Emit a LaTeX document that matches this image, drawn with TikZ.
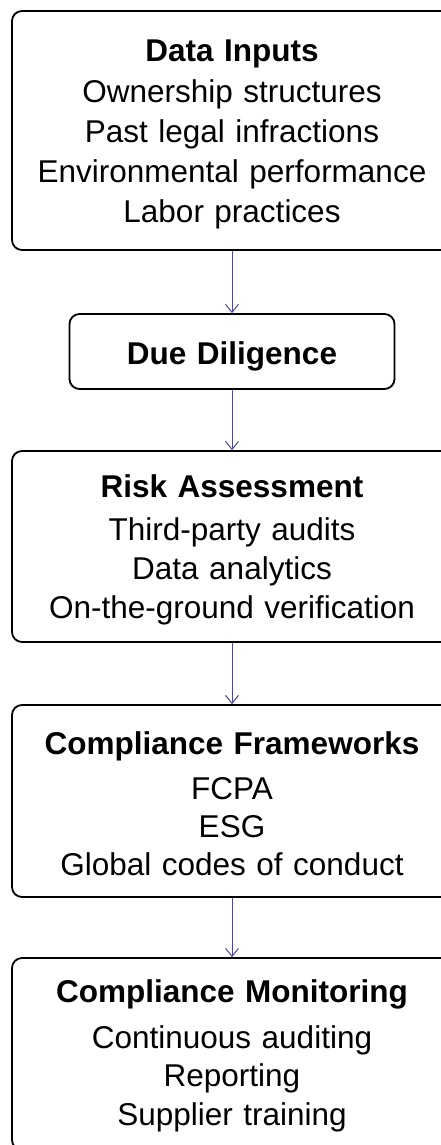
\documentclass[tikz,border=0pt]{standalone}
\usepackage{fontspec}
\setmainfont{Liberation Sans}
\usetikzlibrary{arrows.meta}
\definecolor{arrowc}{HTML}{4B4B8E}
\begin{document}
\begin{tikzpicture}[x=1pt,y=1pt,
  box/.style={draw=black, line width=1.8pt, rounded corners=10pt, inner sep=0pt},
  txt/.style={align=center, inner sep=0pt, anchor=base, text=black, text width=430pt},
  conn/.style={draw=arrowc, line width=1pt, -{Straight Barb[length=8pt,width=13pt,line width=1pt]}}]
\useasboundingbox (0,0) rectangle (441,-1145);
\clip (0,0) rectangle (441,-1145);
\fill[white] (0,0) rectangle (441,-1145);

\node[box, minimum width=440pt, minimum height=239pt] (b1) at (232,-130.5) {};
\node[box, minimum width=325pt, minimum height=75pt] (b2) at (232,-351.5) {};
\node[box, minimum width=440pt, minimum height=191pt] (b3) at (232,-546.5) {};
\node[box, minimum width=440pt, minimum height=192pt] (b4) at (232,-801) {};
\node[box, minimum width=440pt, minimum height=192pt] (b5) at (232,-1054) {};

\node[txt, font=\fontsize{31.5}{40}\selectfont] (t1) at (232,-62)
  {\textbf{Data Inputs}\\[1pt]Ownership structures\\Past legal infractions\\Environmental performance\\Labor practices};
\node[txt, font=\fontsize{31.5}{39}\selectfont] (t2) at (232,-364)
  {\textbf{Due Diligence}};
\node[txt, font=\fontsize{31.5}{39}\selectfont] (t3) at (232,-497)
  {\textbf{Risk Assessment}\\[4pt]Third-party audits\\Data analytics\\On-the-ground verification};
\node[txt, font=\fontsize{31.5}{38}\selectfont] (t4) at (232,-754)
  {\textbf{Compliance Frameworks}\\[7pt]FCPA\\ESG\\Global codes of conduct};
\node[txt, font=\fontsize{31.5}{38.5}\selectfont] (t5) at (232,-1002)
  {\textbf{Compliance Monitoring}\\[7.5pt]Continuous auditing\\Reporting\\Supplier training};

\draw[conn] (b1.south) -- (b2.north);
\draw[conn] (b2.south) -- (b3.north);
\draw[conn] (b3.south) -- (b4.north);
\draw[conn] (b4.south) -- (b5.north);
\end{tikzpicture}
\end{document}
